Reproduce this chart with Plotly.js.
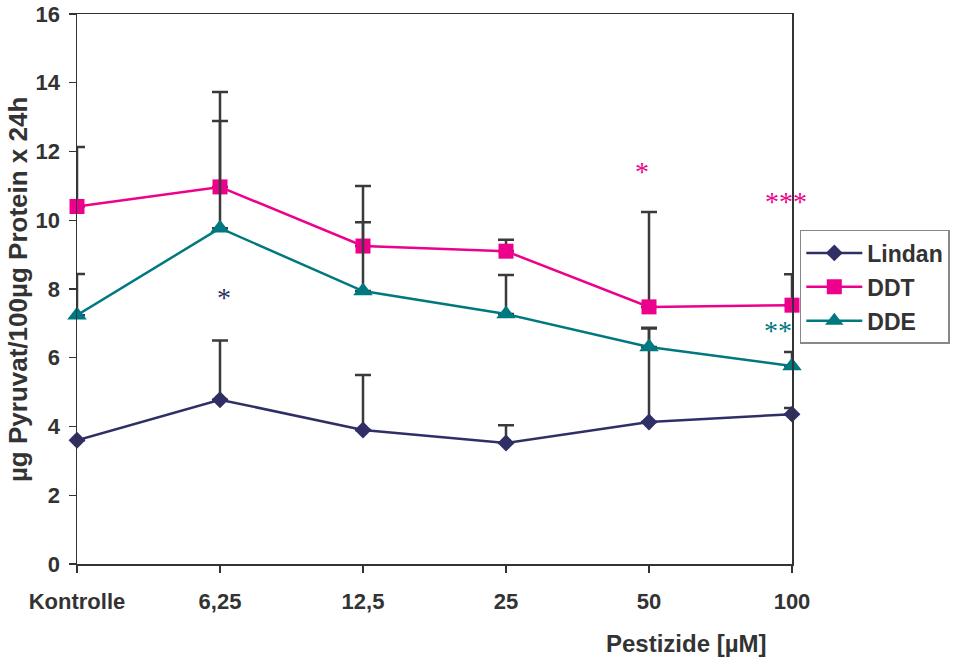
<!DOCTYPE html>
<html>
<head>
<meta charset="utf-8">
<script src="https://cdn.plot.ly/plotly-3.0.1.min.js"></script>
<style>html,body{margin:0;padding:0;background:#fff;}#chart{width:959px;height:658px;}</style>
</head>
<body>
<div id="chart"></div>
<script>
const categories = ["Kontrolle", "6,25", "12,5", "25", "50", "100"];
const lindan = [3.6, 4.78, 3.9, 3.52, 4.13, 4.36];
const lindanErr = [0, 1.72, 1.6, 0.52, 2.72, 0.18];
const ddt = [10.4, 10.97, 9.25, 9.1, 7.48, 7.53];
const ddtErr = [1.73, 2.76, 1.75, 0.33, 2.76, 0.9];
const dde = [7.24, 9.77, 7.94, 7.27, 6.31, 5.76];
const ddeErr = [1.2, 3.12, 2.0, 1.14, 0.56, 0.41];

const sigText = ["*", "*", "***", "**"];
const sigCat = ["6,25", "50", "100", "100"];
const sigY = [7.83, 11.52, 10.62, 6.87];
const sigSeries = ["Lindan", "DDT", "DDT", "DDE"];
const sigShift = [4, -7, -6, -14];

const colors = {Lindan: "#2f2f66", DDT: "#ec008c", DDE: "#007880"};
const errColor = "#3a3a3a";
const boldFont = "Liberation Sans, Arial, sans-serif";

function trace(name, y, err, symbol, size) {
  return {
    x: categories, y: y, name: name, type: "scatter", mode: "lines+markers",
    legendgroup: name,
    cliponaxis: false,
    line: {color: colors[name], width: 2.5},
    marker: {color: colors[name], symbol: symbol, size: size},
    error_y: {type: "data", array: err, symmetric: false, arrayminus: err.map(() => 0),
              color: errColor, thickness: 2.5, width: 8}
  };
}

const data = [
  trace("Lindan", lindan, lindanErr, "diamond", 13),
  trace("DDT", ddt, ddtErr, "square", 15),
  trace("DDE", dde, ddeErr, "triangle-up", 17)
];

const annotations = sigText.map((t, i) => ({
  x: categories.indexOf(sigCat[i]), y: sigY[i], xref: "x", yref: "y", text: t, showarrow: false,
  xanchor: "center", yanchor: "middle",
  xshift: sigShift[i], yshift: -3,
  font: {family: "Liberation Serif, Times New Roman, serif", size: 28, color: colors[sigSeries[i]]}
}));

annotations.push({
  xref: "paper", yref: "paper", x: 0.852, y: -0.145, text: "Pestizide [µM]", showarrow: false,
  xanchor: "center", yanchor: "middle",
  font: {family: boldFont, size: 24, color: "#333333", weight: "bold"}
});
annotations.push({
  xref: "paper", yref: "paper", x: -0.0825, y: 0.498, text: "µg Pyruvat/100µg Protein x 24h", showarrow: false,
  xanchor: "center", yanchor: "middle", textangle: -90,
  font: {family: boldFont, size: 26, color: "#333333", weight: "bold"}
});

const layout = {
  width: 959, height: 658,
  margin: {l: 77, r: 167, t: 14, b: 94, autoexpand: false},
  paper_bgcolor: "#ffffff", plot_bgcolor: "#ffffff",
  showlegend: true,
  font: {family: boldFont, color: "#333333"},
  xaxis: {
    type: "category", range: [0, 5], showgrid: false, zeroline: false,
    showline: true, linecolor: "#333333", linewidth: 1.5, mirror: true,
    ticks: "outside", ticklen: 7, tickcolor: "#333333", tickwidth: 1.2,
    ticklabelstandoff: 10,
    tickfont: {size: 22, color: "#333333", weight: "bold"}
  },
  yaxis: {
    range: [0, 16], dtick: 2, showgrid: false, zeroline: false,
    showline: true, linecolor: "#333333", linewidth: 1.5, mirror: true,
    ticks: "outside", ticklen: 7, tickcolor: "#333333", tickwidth: 1.2,
    ticklabelstandoff: 4,
    tickfont: {size: 22, color: "#333333", weight: "bold"}
  },
  legend: {
    xref: "container", yref: "container",
    x: 0.834, y: 0.6505, xanchor: "left", yanchor: "top",
    bordercolor: "#888888", borderwidth: 1.5, bgcolor: "#ffffff",
    traceorder: "grouped", tracegroupgap: 1, itemwidth: 56,
    font: {size: 23, color: "#333333", weight: "bold"}
  },
  annotations: annotations
};

Plotly.newPlot("chart", data, layout, {displayModeBar: false, staticPlot: true});
</script>
</body>
</html>
